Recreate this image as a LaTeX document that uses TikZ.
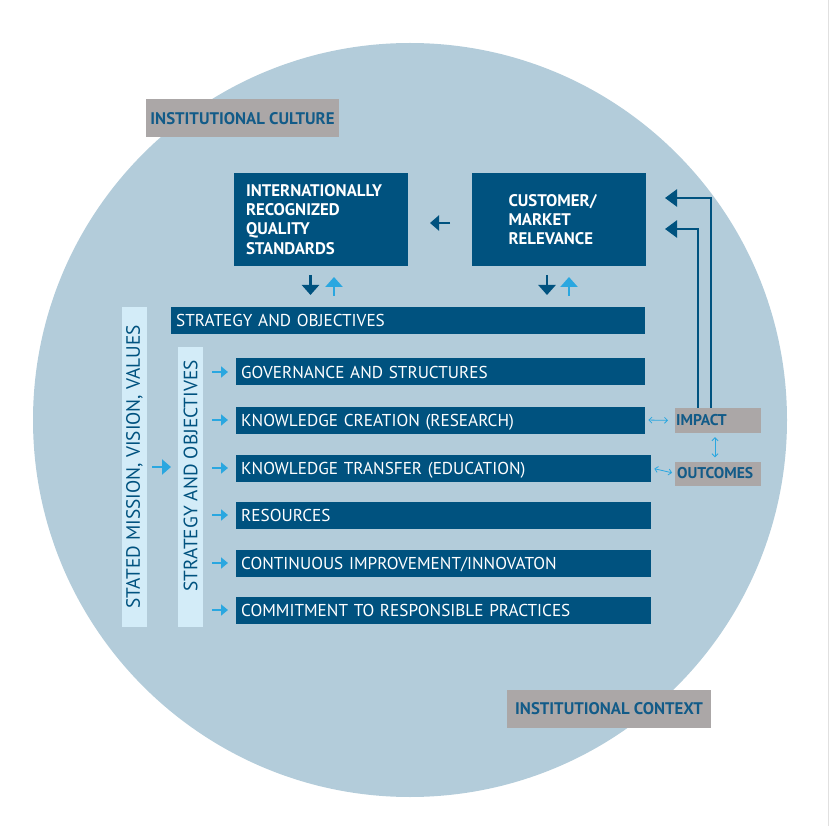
\documentclass[tikz,border=0pt]{standalone}
\usepackage{fontspec}
\setmainfont{PT Sans}
\usetikzlibrary{arrows.meta}
\definecolor{circblue}{HTML}{B3CCDA}
\definecolor{darkblue}{HTML}{00527F}
\definecolor{paleblue}{HTML}{D3ECF8}
\definecolor{brightblue}{HTML}{2AA7E0}
\definecolor{labelgray}{HTML}{ABA7A7}
\definecolor{labeltext}{HTML}{125B88}
\begin{document}
\begin{tikzpicture}[x=1pt,y=-1pt,
   topbox/.style={fill=darkblue,text=white,font=\bfseries\fontsize{16.8}{19.2}\selectfont,
      minimum width=174pt,minimum height=93pt,align=left,inner sep=0pt},
   rowbar/.style={fill=darkblue,text=white,font=\fontsize{17.2}{19}\selectfont,
      minimum height=27pt,anchor=west,inner sep=5pt,text depth=0pt,align=left},
   graylabel/.style={fill=labelgray,text=labeltext,font=\bfseries\fontsize{16.8}{18}\selectfont,
      minimum height=38pt,inner sep=0pt},
   palebar/.style={fill=paleblue,minimum width=25pt,inner sep=0pt,text=darkblue,
      font=\fontsize{19.3}{21}\selectfont},
   darkarr/.style={darkblue,line width=2.5pt,-{Triangle[width=17pt,length=10pt]}},
   lightarr/.style={brightblue,line width=2.5pt,-{Triangle[width=17pt,length=10pt]}},
   rowarr/.style={brightblue,line width=1.8pt,-{Triangle[width=11pt,length=7pt]}},
   linkarr/.style={brightblue,line width=0.8pt,{Straight Barb[length=3pt]}-{Straight Barb[length=3pt]}},
   bigarr/.style={darkblue,line width=2.5pt,-{Triangle[width=17pt,length=12pt]}}]
\useasboundingbox (0,0) rectangle (833,826);
\fill[circblue] (410,420) circle (377pt);
\draw[black!12,line width=1pt] (828,0) -- (828,826);

\node[graylabel,minimum width=193pt] (culture) at (242.5,118.5) {INSTITUTIONAL CULTURE};
\node[graylabel,minimum width=204pt] (context) at (609,709) {INSTITUTIONAL CONTEXT};

\node[topbox] (quality) at (321,219.5) {\parbox{150pt}{INTERNATIONALLY\\RECOGNIZED\\QUALITY\\STANDARDS}};
\node[topbox] (market) at (558.5,219.5) {\parbox{100pt}{CUSTOMER/\\MARKET\\RELEVANCE}};
\coordinate (leftA) at (450,223);
\coordinate (leftB) at (430,223);
\draw[darkarr,-{Triangle[width=15pt,length=9pt]}] (leftA) -- (leftB);

\node[rowbar,text width=464pt] (strategy) at (171,320.5) {STRATEGY AND OBJECTIVES};

\draw[darkarr] (310.5,275) -- (310.5,295);
\draw[lightarr] (334,296) -- (334,277);
\draw[darkarr] (547,275) -- (547,295);
\draw[lightarr] (569,296) -- (569,277);

\node[palebar,minimum height=320pt] (mission) at (134.5,467) {\rotatebox{90}{STATED MISSION, VISION, VALUES}};
\node[palebar,minimum height=280pt] (objectives) at (190.5,487) {};
\node[palebar,fill=none,rotate=90] (objtext) at (190.5,476) {STRATEGY AND OBJECTIVES};
\draw[lightarr,-{Triangle[width=15pt,length=9pt]}] (152,467) -- (171,467);

\node[rowbar,text width=399pt] (governance) at (236,372) {GOVERNANCE AND STRUCTURES};
\node[rowbar,text width=399pt] (creation) at (236,420) {KNOWLEDGE CREATION (RESEARCH)};
\node[rowbar,text width=405pt] (transfer) at (236,468) {KNOWLEDGE TRANSFER (EDUCATION)};
\node[rowbar,text width=405pt] (resources) at (236,515) {RESOURCES};
\node[rowbar,text width=405pt] (improve) at (236,563) {CONTINUOUS IMPROVEMENT/INNOVATON};
\node[rowbar,text width=405pt] (commit) at (236,610) {COMMITMENT TO RESPONSIBLE PRACTICES};

\draw[rowarr] (212,372) -- (228,372);
\draw[rowarr] (212,420) -- (228,420);
\draw[rowarr] (212,468) -- (228,468);
\draw[rowarr] (212,515) -- (228,515);
\draw[rowarr] (212,563) -- (228,563);
\draw[rowarr] (212,610) -- (228,610);

\node[graylabel,minimum height=25pt,anchor=west,font=\bfseries\fontsize{15.6}{17}\selectfont,
   text width=84pt,inner xsep=1pt,align=left] (impact) at (675,420.5) {IMPACT};
\node[graylabel,minimum height=24pt,anchor=west,font=\bfseries\fontsize{15.6}{17}\selectfont,
   text width=82pt,inner xsep=2pt,align=left] (outcomes) at (675,473.5) {OUTCOMES};

\draw[linkarr,shorten <=3pt,shorten >=7pt] (creation.east) -- (impact.west);
\draw[linkarr,shorten <=3pt,shorten >=3pt] (transfer.east) -- (outcomes.west);
\draw[linkarr,shorten <=4pt,shorten >=4pt] (impact.south -| 715,0) -- (outcomes.north -| 715,0);

\coordinate (outerA) at (711,198);
\coordinate (outerTip) at (665,198);
\coordinate (innerA) at (698,229);
\coordinate (innerTip) at (665,229);
\draw[bigarr] (impact.north -| outerA) -- (outerA) -- (outerTip);
\draw[bigarr] (impact.north -| innerA) -- (innerA) -- (innerTip);
\end{tikzpicture}
\end{document}
